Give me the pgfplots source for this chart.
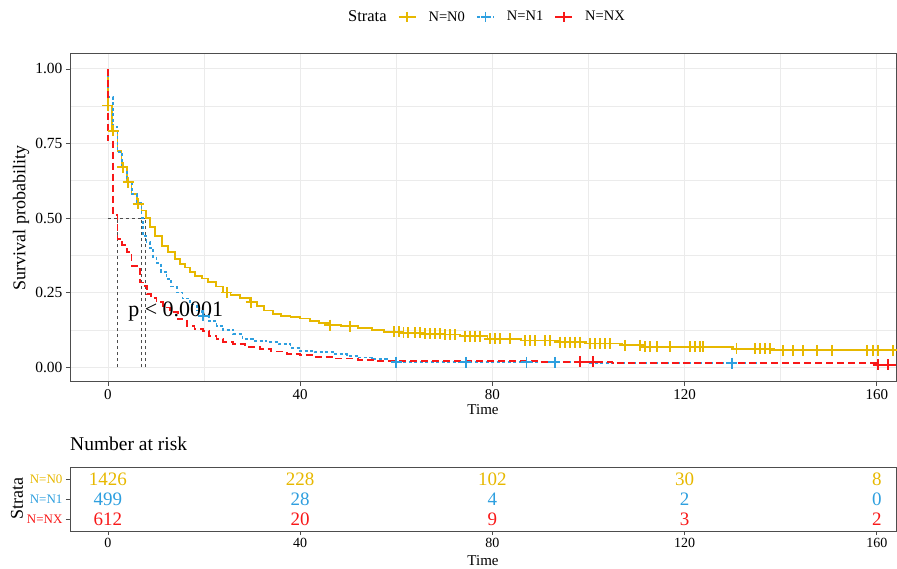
\documentclass[border=0pt]{standalone}
\usepackage{fontspec}
\setmainfont{Liberation Serif}
\usepackage{pgfplots}
\usepackage{pgfplotstable}
\pgfplotsset{compat=1.18}
\definecolor{cN0}{HTML}{E7B800}
\definecolor{cN1}{HTML}{2E9FDF}
\definecolor{cNX}{HTML}{F81818}
\definecolor{gridc}{HTML}{EBEBEB}
\definecolor{framec}{HTML}{4D4D4D}

\pgfplotstableread{
t s
0 1.0
0 0.877
0.9 0.793
2.0 0.726
2.8 0.67
3.9 0.62
4.9 0.58
6.0 0.547
7.0 0.525
7.85 0.499
8.7 0.47
9.8 0.44
11.2 0.407
12.5 0.385
13.9 0.362
15.0 0.345
16.0 0.334
17.0 0.32
18.1 0.306
19.5 0.297
20.9 0.285
22.5 0.27
24.0 0.25
25.5 0.243
27.5 0.232
29.5 0.217
31.0 0.205
32.5 0.19
34.3 0.178
36.0 0.172
38.0 0.167
40.0 0.163
42.0 0.155
44.0 0.148
46.0 0.141
48.5 0.137
52.0 0.13
55.0 0.124
57.5 0.118
61.0 0.115
66.0 0.112
70.0 0.109
73.2 0.103
79.0 0.095
86.0 0.089
94.0 0.084
99.6 0.079
107.0 0.073
111.0 0.068
130.0 0.061
138.0 0.056
164.0 0.056
}\curveNzero

\pgfplotstableread{
t s
0 0.877
1.1 0.793
3.1 0.67
4.2 0.62
6.3 0.547
24.7 0.25
29.8 0.217
46.2 0.141
50.4 0.137
59.5 0.118
60.5 0.118
61.5 0.115
62.5 0.115
63.9 0.115
64.9 0.115
66.0 0.112
67.0 0.112
68.0 0.112
69.1 0.112
70.1 0.109
71.2 0.109
72.2 0.109
74.3 0.103
75.3 0.103
76.4 0.103
77.4 0.103
79.5 0.095
80.5 0.095
81.6 0.095
83.6 0.095
86.8 0.089
87.8 0.089
88.8 0.089
90.9 0.089
92.0 0.089
94.0 0.084
95.1 0.084
96.1 0.084
97.2 0.084
98.2 0.084
100.3 0.079
101.3 0.079
102.4 0.079
103.4 0.079
104.5 0.079
107.6 0.073
110.7 0.073
111.7 0.068
112.8 0.068
114.2 0.068
117.0 0.068
121.1 0.068
122.1 0.068
123.2 0.068
123.9 0.068
130.8 0.061
134.6 0.061
135.7 0.061
136.7 0.061
137.7 0.061
140.5 0.056
142.6 0.056
144.7 0.056
147.5 0.056
150.6 0.056
157.9 0.056
159.2 0.056
160.3 0.056
163.4 0.056
}\marksNzero

\pgfplotstableread{
t s
0 1.0
0 0.905
1.1 0.805
2.0 0.72
3.0 0.67
4.0 0.62
5.0 0.58
6.0 0.55
7.0 0.5
7.3 0.44
8.0 0.42
8.7 0.40
9.4 0.37
10.1 0.35
11.0 0.32
12.2 0.295
13.2 0.27
14.3 0.25
15.5 0.23
17.1 0.21
18.5 0.19
19.6 0.172
21.0 0.155
22.6 0.139
24.0 0.125
26.1 0.11
28.0 0.094
30.2 0.088
33.0 0.083
35.5 0.077
38.0 0.065
40.0 0.055
43.0 0.05
46.9 0.044
49.7 0.038
52.0 0.032
55.0 0.027
58.0 0.02
60.0 0.016
100.0 0.013
136.4 0.013
}\curveNone

\pgfplotstableread{
t s
19.8 0.172
60.0 0.016
74.5 0.016
87.1 0.016
93.0 0.016
129.8 0.013
}\marksNone

\pgfplotstableread{
t s
0 1.0
0 0.76
1.1 0.51
2.0 0.43
3.0 0.41
3.9 0.385
4.9 0.34
6.0 0.33
6.7 0.284
7.3 0.273
8.1 0.245
9.0 0.232
10.1 0.217
11.5 0.2
12.9 0.184
14.5 0.16
16.4 0.139
18.0 0.128
19.8 0.12
21.0 0.105
22.6 0.094
24.0 0.085
26.1 0.077
28.5 0.068
31.6 0.06
34.0 0.052
37.2 0.044
40.0 0.04
42.7 0.033
47.0 0.029
52.0 0.024
55.9 0.021
90.0 0.018
105.0 0.015
160.3 0.008
164.0 0.008
}\curveNX

\pgfplotstableread{
t s
98.2 0.018
101.0 0.018
160.3 0.008
162.4 0.008
}\marksNX

\pgfplotstableread{
t r label
0 3 1426
40 3 228
80 3 102
120 3 30
160 3 8
}\riskNzero
\pgfplotstableread{
t r label
0 2 499
40 2 28
80 2 4
120 2 2
160 2 0
}\riskNone
\pgfplotstableread{
t r label
0 1 612
40 1 20
80 1 9
120 1 3
160 1 2
}\riskNX

\pgfplotsset{
  kmbase/.style={
    scale only axis, width=826pt,
    xmin=-7.9, xmax=164.0,
    axis line style={framec, line width=1pt},
    every tick/.style={framec, line width=0.8pt},
    tick align=outside, major tick length=4pt, minor tick length=0pt,
    xtick={0,40,80,120,160},
    xtick pos=lower, ytick pos=left,
    /pgf/number format/assume math mode=true,
    xticklabel style={font=\fontsize{15}{17}\selectfont},
  },
  legpad/.style={legend image code/.code={%
    \draw[mark repeat=2,mark phase=2,##1] plot coordinates {(0cm,0cm)(0.3cm,0cm)(0.6cm,0cm)};
    \path (-0.25cm,0cm) (0.88cm,0cm);}},
}

\begin{document}
\begin{tikzpicture}
\path[use as bounding box] (0pt,0pt) rectangle (897pt,568pt);

\begin{axis}[kmbase,
  at={(70pt,186pt)}, anchor=south west, height=328pt,
  ymin=-0.05, ymax=1.05,
  ytick={0,0.25,0.5,0.75,1},
  yticklabels={0.00,0.25,0.50,0.75,1.00},
  yticklabel style={font=\fontsize{15.5}{17}\selectfont},
  minor ytick={0.125,0.375,0.625,0.875},
  minor xtick={20,60,100,140},
  grid=both,
  major grid style={gridc, line width=0.9pt},
  minor grid style={gridc, line width=0.5pt},
  xlabel={Time}, ylabel={Survival probability},
  xlabel style={font=\fontsize{15}{17}\selectfont, at={(axis description cs:0.5,0)}, anchor=center, yshift=-28pt},
  ylabel style={font=\fontsize{18}{20}\selectfont, at={(axis description cs:0,0.5)}, anchor=center, yshift=49pt},
  legend style={at={(axis description cs:0.503,1.113)}, anchor=center, draw=none, fill=none,
    font=\fontsize{14.5}{17}\selectfont,
    /tikz/every even column/.append style={column sep=2pt},
    /tikz/every odd column/.append style={column sep=2pt}},
  legend columns=-1,
]
\addlegendimage{empty legend}
\addlegendentry{\fontsize{16.5}{18}\selectfont Strata}
\addlegendimage{legpad, cN0, line width=1.8pt, mark=+, mark size=5pt, mark options={solid}}
\addlegendentry{N=N0}
\addlegendimage{legpad, cN1, line width=1.8pt, dash pattern=on 3pt off 2.5pt, mark=+, mark size=5pt, mark options={solid}}
\addlegendentry{N=N1}
\addlegendimage{legpad, cNX, line width=1.8pt, dash pattern=on 7pt off 4pt, mark=+, mark size=5pt, mark options={solid}}
\addlegendentry{N=NX}

% median lines
\addplot[forget plot, framec, line width=0.9pt, dash pattern=on 3pt off 3pt] coordinates {(0,0.5) (7.85,0.5)};
\addplot[forget plot, framec, line width=0.9pt, dash pattern=on 3pt off 3pt] coordinates {(2.0,0) (2.0,0.5)};
\addplot[forget plot, framec, line width=0.9pt, dash pattern=on 3pt off 3pt] coordinates {(7.0,0) (7.0,0.5)};
\addplot[forget plot, framec, line width=0.9pt, dash pattern=on 3pt off 3pt] coordinates {(7.85,0) (7.85,0.5)};

\addplot[forget plot, const plot, cN0, line width=1.8pt] table[x=t, y=s] {\curveNzero};
\addplot[forget plot, const plot, cN1, line width=1.8pt, dash pattern=on 3pt off 2.5pt] table[x=t, y=s] {\curveNone};
\addplot[forget plot, const plot, cNX, line width=1.8pt, dash pattern=on 7pt off 4pt] table[x=t, y=s] {\curveNX};

\addplot[forget plot, only marks, mark=+, mark size=5.5pt, cN0, line width=1.8pt] table[x=t, y=s] {\marksNzero};
\addplot[forget plot, only marks, mark=+, mark size=5.5pt, cN1, line width=1.8pt] table[x=t, y=s] {\marksNone};
\addplot[forget plot, only marks, mark=+, mark size=5.5pt, cNX, line width=1.8pt] table[x=t, y=s] {\marksNX};

\node[anchor=west, font=\fontsize{22}{24}\selectfont] at (axis cs:3.5,0.185) {p < 0.0001};
\end{axis}

\begin{axis}[kmbase,
  at={(70pt,37pt)}, anchor=south west, height=64pt,
  ymin=0.4, ymax=3.6,
  ytick={1,2,3},
  yticklabels={\textcolor{cNX}{N=NX}, \textcolor{cN1}{N=N1}, \textcolor{cN0}{N=N0}},
  yticklabel style={font=\fontsize{13}{15}\selectfont},
  xticklabel style={font=\fontsize{14}{16}\selectfont},
  xlabel={Time}, ylabel={Strata},
  xlabel style={font=\fontsize{15}{17}\selectfont, at={(axis description cs:0.5,0)}, anchor=center, yshift=-29.5pt},
  ylabel style={font=\fontsize{18}{20}\selectfont, at={(axis description cs:0,0.5)}, anchor=center, yshift=53pt},
  title={Number at risk},
  title style={font=\fontsize{19.5}{22}\selectfont, at={(axis description cs:0,1)}, anchor=base west, yshift=11pt, inner sep=0pt},
  nodes near coords, point meta=explicit symbolic,
  every node near coord/.append style={anchor=center, font=\fontsize{19}{21}\selectfont},
]
\addplot[draw=none, mark=none, nodes near coords style={cN0}] table[x=t, y=r, meta=label] {\riskNzero};
\addplot[draw=none, mark=none, nodes near coords style={cN1}] table[x=t, y=r, meta=label] {\riskNone};
\addplot[draw=none, mark=none, nodes near coords style={cNX}] table[x=t, y=r, meta=label] {\riskNX};
\end{axis}
\end{tikzpicture}
\end{document}
